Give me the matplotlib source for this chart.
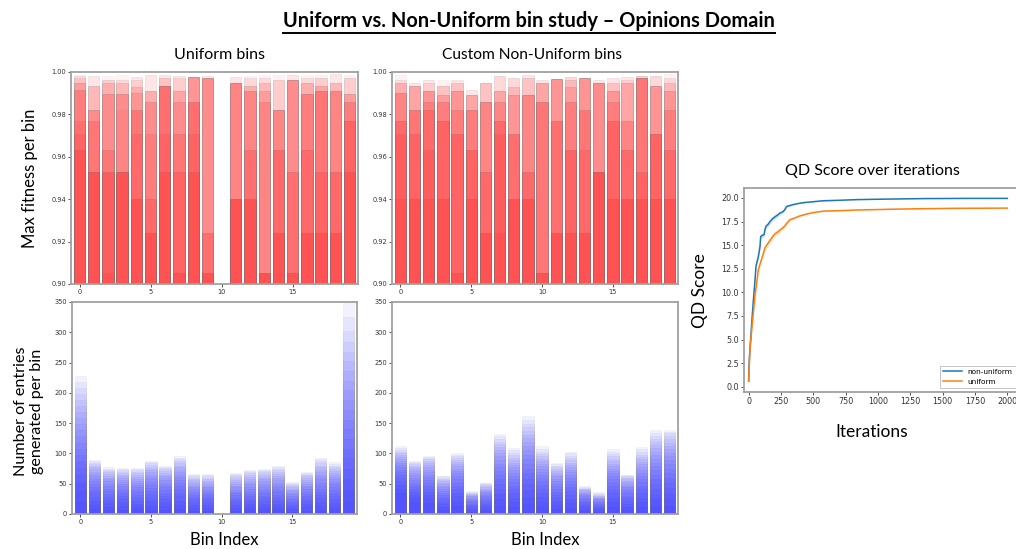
import matplotlib
matplotlib.use("Agg")
import matplotlib.pyplot as plt
from matplotlib.lines import Line2D

# ---------------- data ----------------
bins = list(range(20))
n_layers = 20

# Max fitness per bin: (level, number of snapshot layers reaching at least this level), top-down
fit_uniform = [
    [(0.9988, 1), (0.998, 3), (0.997, 5), (0.9947, 9), (0.9915, 13), (0.977, 15), (0.9707, 17), (0.963, 20)],
    [(0.998, 2), (0.9934, 6), (0.982, 11), (0.977, 14), (0.953, 20)],
    [(0.998, 1), (0.996, 4), (0.9947, 7), (0.9896, 11), (0.963, 14), (0.953, 18), (0.905, 20)],
    [(0.9988, 1), (0.996, 3), (0.995, 6), (0.9896, 11), (0.982, 12), (0.953, 20)],
    [(0.9975, 2), (0.996, 4), (0.993, 7), (0.990, 10), (0.982, 14), (0.9708, 16), (0.94, 20)],
    [(0.9988, 2), (0.9912, 7), (0.986, 11), (0.9708, 13), (0.94, 16), (0.924, 20)],
    [(0.9985, 2), (0.997, 5), (0.9934, 15), (0.9708, 17), (0.953, 20)],
    [(0.998, 2), (0.997, 4), (0.9912, 8), (0.986, 11), (0.9708, 14), (0.953, 17), (0.905, 20)],
    [(0.9977, 10), (0.986, 15), (0.9708, 17), (0.953, 20)],
    [(0.998, 2), (0.997, 11), (0.924, 15), (0.905, 20)],
    [],
    [(0.9977, 2), (0.9947, 12), (0.94, 20)],
    [(0.998, 1), (0.997, 3), (0.9934, 7), (0.9912, 12), (0.963, 15), (0.94, 20)],
    [(0.9988, 1), (0.997, 3), (0.995, 6), (0.9912, 9), (0.986, 12), (0.905, 20)],
    [(0.9988, 1), (0.996, 4), (0.982, 12), (0.963, 16), (0.924, 20)],
    [(0.9984, 2), (0.996, 11), (0.953, 15), (0.905, 20)],
    [(0.9988, 1), (0.997, 3), (0.995, 7), (0.9896, 13), (0.963, 16), (0.924, 20)],
    [(0.9988, 1), (0.997, 4), (0.9934, 8), (0.9912, 14), (0.953, 17), (0.924, 20)],
    [(0.999, 2), (0.995, 6), (0.9912, 12), (0.953, 16), (0.924, 20)],
    [(0.9988, 1), (0.997, 4), (0.9896, 9), (0.986, 13), (0.977, 17), (0.953, 20)],
]

fit_custom = [
    [(0.9987, 1), (0.996, 3), (0.9947, 7), (0.990, 12), (0.977, 16), (0.9707, 18), (0.94, 20)],
    [(0.9947, 2), (0.9934, 8), (0.982, 14), (0.9707, 17), (0.94, 20)],
    [(0.996, 2), (0.9947, 4), (0.9912, 10), (0.986, 13), (0.982, 16), (0.963, 18), (0.94, 20)],
    [(0.996, 1), (0.9934, 5), (0.989, 9), (0.986, 13), (0.977, 17), (0.94, 20)],
    [(0.996, 2), (0.9947, 5), (0.9912, 10), (0.982, 13), (0.9707, 17), (0.905, 20)],
    [(0.9915, 2), (0.989, 8), (0.982, 13), (0.963, 17), (0.94, 20)],
    [(0.995, 5), (0.986, 12), (0.953, 16), (0.924, 20)],
    [(0.998, 3), (0.9912, 8), (0.986, 12), (0.977, 16), (0.9707, 18), (0.924, 20)],
    [(0.997, 3), (0.993, 6), (0.989, 10), (0.9707, 15), (0.94, 20)],
    [(0.9985, 2), (0.997, 5), (0.989, 12), (0.953, 16), (0.94, 20)],
    [(0.996, 2), (0.995, 8), (0.986, 14), (0.905, 20)],
    [(0.9965, 10), (0.977, 15), (0.924, 20)],
    [(0.9975, 3), (0.996, 6), (0.993, 9), (0.986, 13), (0.963, 17), (0.924, 20)],
    [(0.997, 10), (0.982, 14), (0.963, 16), (0.924, 20)],
    [(0.996, 2), (0.995, 11), (0.953, 20)],
    [(0.997, 2), (0.9947, 5), (0.9912, 10), (0.986, 13), (0.977, 17), (0.94, 20)],
    [(0.9975, 2), (0.996, 4), (0.995, 8), (0.977, 12), (0.963, 16), (0.94, 20)],
    [(0.998, 4), (0.997, 14), (0.953, 17), (0.94, 20)],
    [(0.998, 3), (0.9934, 10), (0.9707, 17), (0.94, 20)],
    [(0.999, 1), (0.997, 3), (0.995, 6), (0.9912, 10), (0.982, 13), (0.963, 16), (0.94, 20)],
]

# Number of entries generated per bin, at 20 snapshots
count_uniform = [
    [20, 38, 52, 64, 76, 87, 98, 108, 118, 128, 138, 148, 158, 168, 178, 188, 198, 208, 218, 228],
    [8, 15, 22, 28, 34, 39, 44, 49, 54, 58, 62, 66, 70, 74, 77, 80, 83, 85, 87, 89],
    [6, 12, 18, 23, 28, 33, 38, 42, 46, 50, 54, 57, 60, 63, 66, 69, 71, 73, 75, 77],
    [7, 13, 19, 24, 29, 34, 38, 42, 46, 50, 53, 56, 59, 62, 65, 68, 70, 72, 74, 76],
    [6, 12, 17, 22, 27, 32, 36, 40, 44, 48, 52, 55, 58, 61, 64, 67, 70, 72, 74, 76],
    [7, 14, 21, 27, 33, 38, 43, 48, 53, 57, 61, 65, 69, 72, 75, 78, 81, 84, 86, 88],
    [7, 13, 19, 25, 30, 35, 40, 44, 48, 52, 56, 59, 62, 65, 68, 71, 74, 76, 78, 80],
    [8, 15, 22, 29, 35, 41, 46, 51, 56, 61, 65, 69, 73, 77, 80, 84, 87, 90, 93, 96],
    [5, 10, 15, 20, 24, 28, 32, 35, 38, 41, 44, 47, 50, 53, 56, 58, 60, 62, 64, 66],
    [5, 10, 15, 20, 24, 28, 32, 35, 38, 41, 44, 47, 50, 53, 55, 58, 60, 62, 64, 66],
    [],
    [5, 10, 15, 19, 23, 27, 31, 34, 37, 40, 44, 47, 50, 53, 56, 59, 62, 64, 66, 68],
    [6, 11, 16, 21, 25, 29, 33, 37, 41, 45, 49, 52, 55, 58, 61, 64, 67, 69, 71, 72],
    [6, 12, 17, 22, 26, 30, 34, 38, 42, 46, 50, 54, 57, 60, 63, 66, 69, 71, 73, 75],
    [6, 12, 17, 22, 27, 32, 36, 40, 44, 48, 52, 56, 60, 63, 66, 69, 72, 75, 77, 79],
    [4, 8, 12, 15, 18, 21, 24, 27, 30, 33, 35, 38, 40, 42, 44, 46, 48, 50, 52, 53],
    [5, 11, 16, 21, 25, 29, 33, 37, 41, 44, 47, 50, 53, 56, 59, 62, 64, 66, 68, 69],
    [7, 14, 20, 26, 32, 37, 42, 47, 52, 57, 61, 65, 69, 73, 77, 80, 84, 87, 90, 92],
    [6, 12, 18, 24, 30, 35, 40, 45, 49, 53, 57, 61, 65, 68, 71, 74, 77, 80, 83, 86],
    [20, 40, 58, 75, 92, 108, 124, 140, 156, 172, 188, 204, 220, 236, 252, 268, 284, 302, 326, 350],
]

count_custom = [
    [34, 42, 48, 54, 59, 64, 69, 73, 77, 81, 85, 88, 91, 94, 97, 100, 103, 106, 109, 112],
    [20, 26, 31, 36, 40, 44, 48, 52, 56, 60, 64, 68, 71, 74, 77, 80, 82, 84, 86, 88],
    [18, 25, 31, 37, 42, 47, 52, 56, 61, 65, 69, 73, 77, 81, 84, 87, 90, 92, 94, 96],
    [6, 11, 16, 20, 24, 28, 32, 35, 38, 41, 44, 47, 50, 52, 54, 56, 58, 60, 62, 63],
    [14, 22, 29, 35, 41, 47, 52, 57, 62, 67, 71, 75, 79, 83, 86, 89, 92, 95, 98, 100],
    [4, 7, 10, 13, 15, 17, 19, 21, 23, 25, 27, 29, 30, 31, 32, 33, 34, 35, 37, 38],
    [5, 9, 13, 17, 20, 23, 26, 29, 32, 34, 36, 38, 40, 42, 44, 46, 48, 49, 51, 52],
    [14, 24, 33, 42, 50, 57, 64, 71, 77, 83, 89, 95, 100, 105, 110, 115, 119, 124, 128, 132],
    [11, 19, 27, 34, 41, 47, 53, 58, 63, 68, 73, 77, 81, 85, 89, 93, 97, 101, 105, 109],
    [16, 28, 39, 49, 58, 67, 75, 83, 91, 98, 105, 112, 119, 125, 131, 137, 143, 149, 156, 162],
    [11, 20, 28, 35, 42, 48, 54, 59, 64, 69, 74, 79, 83, 87, 91, 95, 99, 103, 108, 113],
    [8, 15, 21, 27, 32, 37, 42, 46, 50, 54, 58, 62, 65, 68, 71, 74, 77, 80, 82, 84],
    [10, 18, 25, 32, 38, 44, 50, 55, 60, 65, 69, 73, 77, 81, 85, 89, 93, 96, 100, 103],
    [5, 9, 13, 16, 19, 22, 25, 27, 29, 31, 33, 35, 37, 39, 40, 41, 42, 43, 45, 46],
    [4, 7, 10, 12, 14, 16, 18, 20, 22, 24, 25, 26, 27, 28, 29, 30, 31, 33, 35, 36],
    [11, 19, 27, 34, 40, 46, 52, 57, 62, 67, 71, 75, 79, 83, 87, 91, 95, 99, 103, 107],
    [6, 12, 17, 22, 26, 30, 34, 38, 41, 44, 47, 50, 53, 55, 57, 59, 61, 63, 64, 65],
    [11, 19, 27, 34, 41, 47, 53, 58, 63, 68, 73, 78, 82, 86, 90, 94, 98, 102, 107, 111],
    [14, 24, 33, 42, 50, 58, 65, 72, 79, 85, 91, 97, 103, 109, 114, 119, 124, 129, 134, 138],
    [14, 24, 34, 43, 52, 60, 68, 75, 82, 89, 95, 101, 107, 113, 118, 123, 128, 133, 136, 139],
]

# QD score over iterations
iter_nu = [0, 5, 15, 25, 35, 45, 57, 66, 75, 88, 93, 100, 119, 125, 134, 150, 165, 185, 204,
           225, 242, 260, 276, 294, 320, 345, 380, 423, 500, 577, 700, 835, 1000, 1350, 1700, 2000]
qd_nu = [0.6, 2.9, 5.0, 7.0, 8.9, 10.6, 12.8, 13.3, 13.8, 14.9, 15.9, 16.0, 16.1, 16.6, 17.0,
         17.2, 17.5, 17.8, 18.0, 18.2, 18.4, 18.5, 18.7, 19.1, 19.2, 19.3, 19.4, 19.5, 19.6,
         19.7, 19.75, 19.82, 19.86, 19.93, 19.95, 19.95]
sd_nu = [0.05, 0.2, 0.3, 0.3, 0.3, 0.3, 0.3, 0.3, 0.3, 0.3, 0.25, 0.25, 0.25, 0.25, 0.25,
         0.25, 0.25, 0.25, 0.25, 0.2, 0.2, 0.15, 0.15, 0.1, 0.1, 0.08, 0.06, 0.05, 0.04,
         0.03, 0.03, 0.02, 0.02, 0.02, 0.02, 0.02]
iter_u = [0, 10, 26, 41, 50, 62, 75, 88, 100, 113, 126, 145, 165, 185, 204, 225, 242, 270,
          294, 320, 360, 397, 450, 500, 577, 700, 835, 1093, 1300, 1608, 2000]
qd_u = [0.6, 3.9, 6.4, 8.5, 9.8, 11.0, 12.4, 13.0, 13.5, 14.1, 14.7, 15.1, 15.5, 15.9, 16.2,
        16.4, 16.6, 16.9, 17.3, 17.7, 17.9, 18.1, 18.3, 18.45, 18.6, 18.65, 18.72, 18.8,
        18.85, 18.9, 18.92]
sd_u = [0.05, 0.2, 0.3, 0.3, 0.3, 0.3, 0.3, 0.3, 0.3, 0.3, 0.3, 0.3, 0.3, 0.3, 0.3, 0.3,
        0.25, 0.2, 0.15, 0.12, 0.1, 0.08, 0.06, 0.05, 0.04, 0.03, 0.03, 0.02, 0.02, 0.02, 0.02]

# ---------------- helpers ----------------
def layers_from_bands(bands_per_bin):
    out = []
    for bands in bands_per_bin:
        heights, prev = [], 0
        for level, n in bands:
            heights += [level] * (n - prev)
            prev = n
        heights += [0.0] * (n_layers - prev)
        out.append(heights)
    return out

def layers_from_counts(counts_per_bin):
    return [c if c else [0] * n_layers for c in counts_per_bin]

FONT = ['Lato', 'DejaVu Sans']
W, H = 1016, 549

fig = plt.figure(figsize=(W / 100, H / 100), dpi=100)

def add_ax(x0, y0, x1, y1):
    return fig.add_axes([x0 / W, 1 - y1 / H, (x1 - x0) / W, (y1 - y0) / H])

def style(ax):
    for s in ax.spines.values():
        s.set_color('#a0a0a0')
        s.set_linewidth(1.3)
    ax.tick_params(labelsize=4.8, length=2, width=0.6, colors='#333333', pad=1.5)

def draw_layers(ax, layers, color):
    for k in range(n_layers):
        hs = [layers[b][k] for b in bins]
        ax.bar(bins, hs, width=0.8, color=color, alpha=0.05,
               edgecolor='#6b6b6b', linewidth=0.7)

ax_tl = add_ax(71, 72, 358, 284)
ax_tr = add_ax(392, 72, 678, 284)
ax_bl = add_ax(72, 302, 357, 514)
ax_br = add_ax(392, 302, 678, 514)

for ax, data in [(ax_tl, fit_uniform), (ax_tr, fit_custom)]:
    draw_layers(ax, layers_from_bands(data), 'red')
    ax.set_ylim(0.9, 1.0)
    ax.set_yticks([0.90, 0.92, 0.94, 0.96, 0.98, 1.00])
    ax.set_yticklabels(['0.90', '0.92', '0.94', '0.96', '0.98', '1.00'])

for ax, data in [(ax_bl, count_uniform), (ax_br, count_custom)]:
    draw_layers(ax, layers_from_counts(data), 'blue')
    ax.set_ylim(0, 350)
    ax.set_yticks([0, 50, 100, 150, 200, 250, 300, 350])

for ax in [ax_tl, ax_tr, ax_bl, ax_br]:
    ax.set_xlim(-0.6, 19.6)
    ax.set_xticks([0, 5, 10, 15])
    style(ax)

# QD plot
ax_qd = add_ax(744, 188, 1020, 392)
ax_qd.fill_between(iter_nu, [a - b for a, b in zip(qd_nu, sd_nu)],
                   [a + b for a, b in zip(qd_nu, sd_nu)], color='#1f77b4', alpha=0.2, lw=0)
ax_qd.fill_between(iter_u, [a - b for a, b in zip(qd_u, sd_u)],
                   [a + b for a, b in zip(qd_u, sd_u)], color='#ff7f0e', alpha=0.2, lw=0)
ax_qd.plot(iter_nu, qd_nu, color='#1f77b4', lw=1.1, label='non-uniform')
ax_qd.plot(iter_u, qd_u, color='#ff7f0e', lw=1.1, label='uniform')
ax_qd.set_xlim(-36, 2098)
ax_qd.set_ylim(-0.55, 21.05)
ax_qd.set_xticks([0, 250, 500, 750, 1000, 1250, 1500, 1750, 2000])
ax_qd.set_yticks([0, 2.5, 5, 7.5, 10, 12.5, 15, 17.5, 20])
ax_qd.set_yticklabels(['0.0', '2.5', '5.0', '7.5', '10.0', '12.5', '15.0', '17.5', '20.0'])
style(ax_qd)
ax_qd.tick_params(labelsize=5.8)
leg = ax_qd.legend(loc='lower right', fontsize=5.3, frameon=True, fancybox=False,
                   borderaxespad=0.6, handlelength=2.6)
leg.get_frame().set_edgecolor('#aaaaaa')
leg.get_frame().set_linewidth(0.6)

# ---------------- slide text ----------------
title = fig.text(529 / W, 1 - 21 / H, 'Uniform vs. Non-Uniform bin study \u2013 Opinions Domain',
                 ha='center', va='center', fontsize=14.4, fontweight='bold', family=FONT)
fig.text(220 / W, 1 - 55 / H, 'Uniform bins', ha='center', va='center', fontsize=11.5, family=FONT)
fig.text(532 / W, 1 - 55 / H, 'Custom Non-Uniform bins', ha='center', va='center', fontsize=11.2, family=FONT)
fig.text(30 / W, 1 - 178 / H, 'Max fitness per bin', ha='center', va='center', rotation=90,
         fontsize=12, family=FONT)
fig.text(29 / W, 1 - 411 / H, 'Number of entries\ngenerated per bin', ha='center', va='center',
         rotation=90, fontsize=11.6, family=FONT, linespacing=1.15)
fig.text(224 / W, 1 - 540 / H, 'Bin Index', ha='center', va='center', fontsize=12, family=FONT)
fig.text(545 / W, 1 - 540 / H, 'Bin Index', ha='center', va='center', fontsize=12, family=FONT)
fig.text(872 / W, 1 - 171 / H, 'QD Score over iterations', ha='center', va='center',
         fontsize=11.5, family=FONT)
fig.text(700 / W, 1 - 291 / H, 'QD Score', ha='center', va='center', rotation=90,
         fontsize=12.5, family=FONT)
fig.text(872 / W, 1 - 432 / H, 'Iterations', ha='center', va='center', fontsize=12.5, family=FONT)

# underline title
fig.canvas.draw()
bb = title.get_window_extent(renderer=fig.canvas.get_renderer())
fig.add_artist(Line2D([bb.x0 / W, bb.x1 / W], [1 - 33 / H, 1 - 33 / H],
                      transform=fig.transFigure, color='black', lw=1.4))

fig.savefig('out.png', dpi=100)
